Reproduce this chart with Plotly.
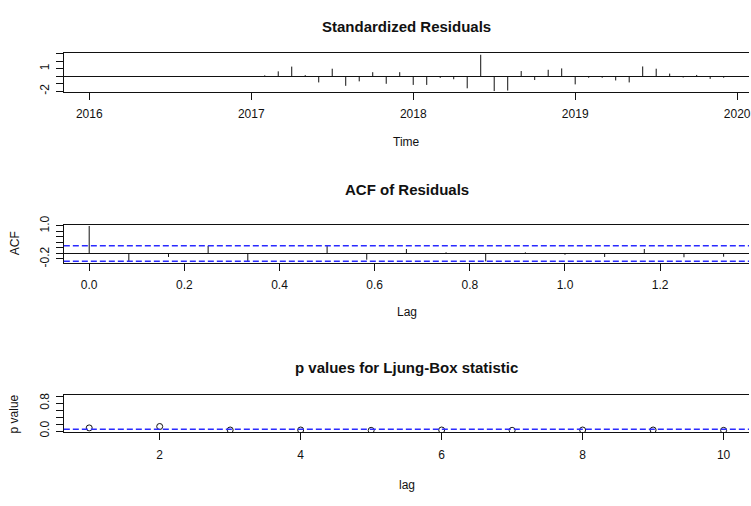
import plotly.graph_objects as go

# ---------------- data ----------------
# Standardized residuals: monthly series, Jan 2016 .. Dec 2019
res_start = 2016.0
res_freq = 12
std_residuals = [0, 0, 0, 0, 0, 0, 0, 0, 0, 0, 0, 0,
                 0.0, 0.12, 0.65, 1.28, 0.15, -0.82, 1.0, -1.27, -0.68, 0.54, -1.0, 0.54,
                 -1.15, -1.15, -0.22, -0.4, -1.6, 2.85, -1.97, -1.9, 0.69, -0.5, 0.86, 1.04,
                 -1.08, -0.2, -0.2, -0.56, -0.82, 1.3, 1.0, 0.35, -0.17, 0.17, -0.35, -0.2]
res_xticks = [2016, 2017, 2018, 2019, 2020]
res_yticks = [-2, -1, 0, 1, 2, 3]
res_ylabels = ["-2", "", "", "1", "", ""]

# ACF of residuals (lag in years, k/12)
acf_values = [1.0, -0.29, -0.13, 0.27, -0.29, 0.01, 0.27, -0.23, 0.16, 0.04,
              -0.29, 0.04, -0.05, -0.13, 0.16, -0.14, -0.12]
acf_clim = 0.283
acf_xticks = [0.0, 0.2, 0.4, 0.6, 0.8, 1.0, 1.2]
acf_xlabels = ["0.0", "0.2", "0.4", "0.6", "0.8", "1.0", "1.2"]
acf_yticks = [-0.2, 0.0, 0.2, 0.4, 0.6, 0.8, 1.0]
acf_ylabels = ["-0.2", "", "", "", "", "", "1.0"]

# Ljung-Box p values
lb_lags = [1, 2, 3, 4, 5, 6, 7, 8, 9, 10]
lb_pvalues = [0.09, 0.13, 0.03, 0.03, 0.02, 0.03, 0.02, 0.03, 0.03, 0.02]
lb_level = 0.05
lb_xticks = [2, 4, 6, 8, 10]
lb_yticks = [0.0, 0.2, 0.4, 0.6, 0.8, 1.0]
lb_ylabels = ["0.0", "", "", "", "0.8", ""]

# ---------------- styling ----------------
W, H = 751, 506
FONT = "Liberation Sans, Arial, sans-serif"
INK = "#111111"
LEFT = 64 / W


def ydom(top_px, bot_px):
    return [1 - bot_px / H, 1 - top_px / H]


def stems(xs, ys):
    sx, sy = [], []
    for x, y in zip(xs, ys):
        sx += [x, x, None]
        sy += [0, y, None]
    return sx, sy


res_time = [res_start + i / res_freq for i in range(len(std_residuals))]
acf_lags = [k / res_freq for k in range(len(acf_values))]

fig = go.Figure()
rx, ry = stems(res_time, std_residuals)
fig.add_trace(go.Scatter(x=rx, y=ry, mode="lines", line=dict(color=INK, width=1),
                         xaxis="x", yaxis="y", showlegend=False, hoverinfo="skip"))
ax, ay = stems(acf_lags, acf_values)
fig.add_trace(go.Scatter(x=ax, y=ay, mode="lines", line=dict(color=INK, width=1),
                         xaxis="x2", yaxis="y2", showlegend=False, hoverinfo="skip"))
fig.add_trace(go.Scatter(x=lb_lags, y=lb_pvalues, mode="markers",
                         marker=dict(symbol="circle-open", size=6, color=INK, line=dict(width=1)),
                         xaxis="x3", yaxis="y3", showlegend=False))

tickfont = dict(family=FONT, size=12, color=INK)
xcommon = dict(showline=True, mirror=True, linecolor=INK, linewidth=1, ticks="outside",
               ticklen=7, tickwidth=1, tickcolor=INK, showgrid=False, zeroline=False,
               tickfont=tickfont, ticklabelstandoff=4, ticklabeloverflow="allow",
               domain=[LEFT, 1])
ycommon = dict(showline=True, mirror=False, linecolor=INK, linewidth=1, ticks="outside",
               ticklen=7, tickwidth=1, tickcolor=INK, showgrid=False,
               tickfont=tickfont, tickangle=-90, ticklabelstandoff=2, tickmode="array")

fig.update_layout(
    width=W, height=H, autosize=False,
    margin=dict(l=0, r=0, t=0, b=0),
    paper_bgcolor="white", plot_bgcolor="white",
    xaxis=dict(xcommon, anchor="y", range=[2015.843, 2020.073], tickmode="array",
               tickvals=res_xticks, ticktext=[str(v) for v in res_xticks]),
    yaxis=dict(ycommon, anchor="x", domain=ydom(45.3, 85.2), range=[-2.07, 3.08],
               tickvals=res_yticks, ticktext=res_ylabels,
               zeroline=True, zerolinecolor=INK, zerolinewidth=1),
    xaxis2=dict(xcommon, anchor="y2", range=[-0.0533, 1.3867], tickmode="array",
                tickvals=acf_xticks, ticktext=acf_xlabels),
    yaxis2=dict(ycommon, anchor="x2", domain=ydom(221.7, 261.0), range=[-0.3416, 1.0516],
                tickvals=acf_yticks, ticktext=acf_ylabels,
                zeroline=True, zerolinecolor=INK, zerolinewidth=1),
    xaxis3=dict(xcommon, anchor="y3", range=[0.64, 10.36], tickmode="array",
                tickvals=lb_xticks, ticktext=[str(v) for v in lb_xticks]),
    yaxis3=dict(ycommon, anchor="x3", domain=ydom(396.7, 435.5), range=[-0.04, 1.04],
                tickvals=lb_yticks, ticktext=lb_ylabels, zeroline=False),
)

dash_line = dict(color="#2a2aff", width=1.5, dash="6px,3px")
for yv in (acf_clim, -acf_clim):
    fig.add_shape(type="line", xref="x2 domain", yref="y2", x0=0, x1=1, y0=yv, y1=yv,
                  line=dash_line)
fig.add_shape(type="line", xref="x3 domain", yref="y3", x0=0, x1=1, y0=lb_level, y1=lb_level,
              line=dash_line)

cx = (64 + 751.4) / 2 / W
titlefont = dict(family=FONT, size=15, color=INK)
labfont = dict(family=FONT, size=12, color=INK)


def ann(text, x, y_px, font, angle=0):
    fig.add_annotation(text=text, x=x, y=1 - y_px / H, xref="paper", yref="paper",
                       showarrow=False, xanchor="center", yanchor="middle",
                       font=font, textangle=angle)


ann("<b>Standardized Residuals</b>", cx, 18, titlefont)
ann("Time", cx, 137, labfont)
ann("<b>ACF of Residuals</b>", cx, 186, titlefont)
ann("Lag", cx, 312, labfont)
ann("ACF", 15 / W, 241, labfont, -90)
ann("<b>p values for Ljung-Box statistic</b>", cx, 369, titlefont)
ann("lag", cx, 490, labfont)
ann("p value", 15 / W, 416, labfont, -90)

fig.write_html("out.html", config={"displayModeBar": False},
               post_script="document.body.style.margin='0';document.body.style.overflow='hidden';")
